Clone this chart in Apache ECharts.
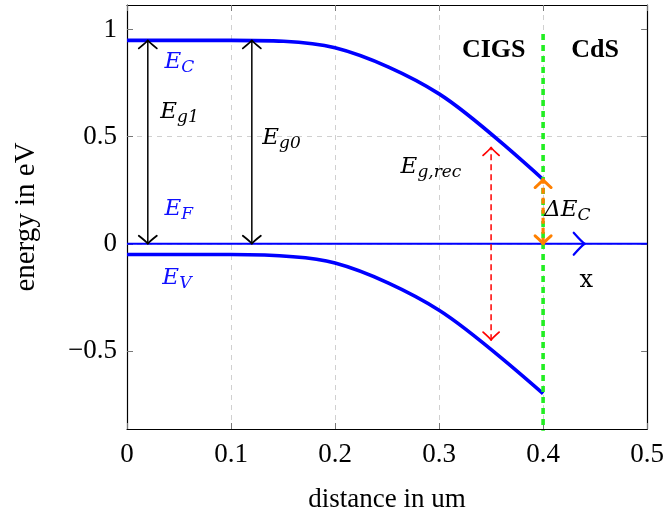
<!DOCTYPE html>
<html><head><meta charset="utf-8">
<script src="https://cdn.jsdelivr.net/npm/echarts@6/dist/echarts.min.js"></script>
<style>html,body{margin:0;padding:0;background:#fff}#c{width:667px;height:518px}</style>
</head><body><div id="c"></div>
<script>
// ---- data ----
const xPos = [0, 0.1, 0.2, 0.3, 0.4];
const ecVals = [0.95, 0.95, 0.915, 0.70, 0.30];
const evVals = [-0.05, -0.05, -0.09, -0.31, -0.70];
const efX = [0, 0.5];
const efVals = [0, 0];
const xTicks = [0, 0.1, 0.2, 0.3, 0.4, 0.5];
const yTicks = [-0.5, 0, 0.5, 1];
const gapArrows = [[0.02, 0, 0.95], [0.12, 0, 0.95]];
const recArrow = [[0.35, -0.45, 0.45]];
const offsetArrow = [[0.4, 0, 0.3]];
const interfaceLine = [[0.4, -1], [0.4, 1]];
const efArrowAt = [[0.44, 0]];
const yMin = -0.865, yMax = 1.115;
// annotation anchors (data coords) and texts
const blueLabels = [[0.036, 0.85, 'E', 'C'], [0.036, 0.163, 'E', 'F'], [0.034, -0.16, 'E', 'V']];
const blackLabels = [[0.032, 0.614, 'E', 'g1'], [0.130, 0.495, 'E', 'g0'], [0.263, 0.357, 'E', 'g,rec'], [0.401, 0.159, 'ΔE', 'C']];
const plainLabels = [[0.435, -0.173, 'x']];
const regionLabels = [[0.322, 0.904, 'CIGS'], [0.427, 0.904, 'CdS']];

const FONT = 'Liberation Serif';
const MATH = 'DejaVu Serif';

function chevron(tip, dir, h, w) {
  const nx = -dir[1], ny = dir[0];
  const a = [tip[0] - dir[0]*h + nx*w, tip[1] - dir[1]*h + ny*w];
  const b = [tip[0] - dir[0]*h - nx*w, tip[1] - dir[1]*h - ny*w];
  const ca = [tip[0] - dir[0]*h*0.25 + nx*w*0.15, tip[1] - dir[1]*h*0.25 + ny*w*0.15];
  const cb = [tip[0] - dir[0]*h*0.25 - nx*w*0.15, tip[1] - dir[1]*h*0.25 - ny*w*0.15];
  return 'M' + a[0] + ' ' + a[1] + ' Q' + ca[0] + ' ' + ca[1] + ' ' + tip[0] + ' ' + tip[1] +
         ' Q' + cb[0] + ' ' + cb[1] + ' ' + b[0] + ' ' + b[1];
}

function arrowSeries(data, color, width, dash, headW, headH, headWidth) {
  return {
    type: 'custom', data: data, z: 5, silent: true,
    renderItem: function (params, api) {
      const x = api.value(0), ya = api.value(1), yb = api.value(2);
      const p1 = api.coord([x, ya]), p2 = api.coord([x, yb]);
      const dx = p2[0]-p1[0], dy = p2[1]-p1[1];
      const L = Math.sqrt(dx*dx + dy*dy);
      const d = [dx/L, dy/L];
      return {
        type: 'group',
        children: [
          { type: 'line', shape: { x1: p1[0], y1: p1[1], x2: p2[0], y2: p2[1] },
            style: { stroke: color, lineWidth: width, lineDash: dash } },
          { type: 'path', shape: { pathData: chevron(p2, d, headH, headW) },
            style: { stroke: color, fill: null, lineWidth: headWidth, lineCap: 'round', lineJoin: 'round' } },
          { type: 'path', shape: { pathData: chevron(p1, [-d[0], -d[1]], headH, headW) },
            style: { stroke: color, fill: null, lineWidth: headWidth, lineCap: 'round', lineJoin: 'round' } }
        ]
      };
    }
  };
}

function labelSeries(data, color, fmt) {
  return {
    type: 'scatter', data: data, symbolSize: 0, z: 6, silent: true,
    itemStyle: { opacity: 1 },
    label: {
      show: true, position: 'right', distance: 0, color: color, opacity: 1,
      formatter: fmt,
      rich: {
        m: { fontFamily: MATH, fontStyle: 'italic', fontSize: 23, color: color, lineHeight: 28 },
        s: { fontFamily: MATH, fontStyle: 'italic', fontSize: 17, color: color, lineHeight: 11, verticalAlign: 'bottom' },
        u: { fontFamily: MATH, fontSize: 24, color: color, lineHeight: 28 },
        b: { fontFamily: FONT, fontWeight: 'bold', fontSize: 26, color: color, lineHeight: 28 }
      }
    }
  };
}

const chart = echarts.init(document.getElementById('c'), null, { renderer: 'canvas' });
const axisFont = { fontFamily: FONT, fontSize: 27, color: '#000' };
const tickStyle = { show: true, inside: true, length: 6, lineStyle: { color: '#777' } };
const splitStyle = { show: true, showMinLine: false, showMaxLine: false, lineStyle: { color: '#d0d0d0', type: [5, 5], width: 1 } };
chart.setOption({
  animation: false,
  backgroundColor: '#fff',
  grid: { left: 127, right: 17, top: 5, bottom: 86, show: false, containLabel: false },
  xAxis: [{
    type: 'value', min: 0, max: 0.5, interval: 0.1, position: 'bottom',
    name: 'distance in um', nameLocation: 'middle', nameGap: 57,
    nameTextStyle: { fontFamily: FONT, fontSize: 27, color: '#000' },
    axisLine: { show: true, onZero: false, lineStyle: { color: '#000', width: 1.2 } },
    axisTick: tickStyle,
    axisLabel: Object.assign({ margin: 12, formatter: v => String(v) }, axisFont),
    splitLine: splitStyle
  }, {
    type: 'value', min: 0, max: 0.5, interval: 0.1, position: 'top',
    axisLine: { show: true, onZero: false, lineStyle: { color: '#000', width: 1.2 } },
    axisLabel: { show: false },
    axisTick: tickStyle,
    splitLine: { show: false }
  }],
  yAxis: [{
    type: 'value', min: yMin, max: yMax, position: 'left',
    name: 'energy in eV', nameLocation: 'middle', nameGap: 86, nameRotate: 90,
    nameTextStyle: { fontFamily: FONT, fontSize: 29, color: '#000' },
    axisLine: { show: true, onZero: false, lineStyle: { color: '#000', width: 1.2 } },
    axisTick: Object.assign({ customValues: yTicks }, tickStyle),
    axisLabel: Object.assign({ margin: 10, customValues: yTicks, formatter: v => String(v).replace('-', '\u2212') }, axisFont),
    splitLine: splitStyle
  }, {
    type: 'value', min: yMin, max: yMax, position: 'right',
    axisLine: { show: true, onZero: false, lineStyle: { color: '#000', width: 1.2 } },
    axisLabel: { show: false, customValues: yTicks },
    axisTick: Object.assign({ customValues: yTicks }, tickStyle),
    splitLine: { show: false }
  }],
  series: [
    { type: 'line', data: efX.map((x, i) => [x, efVals[i]]), symbol: 'none', lineStyle: { color: '#0000ff', width: 1.8 }, z: 3 },
    { type: 'custom', data: efArrowAt, z: 4, silent: true,
      renderItem: function (params, api) {
        const p = api.coord([api.value(0), api.value(1)]);
        return { type: 'path', shape: { pathData: chevron(p, [1, 0], 11, 11) },
          style: { stroke: '#0000ff', fill: null, lineWidth: 2.2, lineCap: 'round' } };
      } },
    { type: 'line', data: xPos.map((x, i) => [x, ecVals[i]]), smooth: 0.3, symbol: 'none', lineStyle: { color: '#0000ff', width: 3.6 }, z: 3 },
    { type: 'line', data: xPos.map((x, i) => [x, evVals[i]]), smooth: 0.3, symbol: 'none', lineStyle: { color: '#0000ff', width: 3.6 }, z: 3 },
    { type: 'line', data: interfaceLine, symbol: 'none', lineStyle: { color: '#22ee22', width: 3.6, type: [6, 5] }, z: 4 },
    arrowSeries(gapArrows, '#000', 1.5, null, 9, 8, 1.8),
    arrowSeries(recArrow, '#ff0000', 1.5, [6, 4], 8, 8, 1.8),
    arrowSeries(offsetArrow, '#ff8000', 3.2, [6, 4], 8, 8, 3),
    labelSeries(blueLabels.map(d => ({ value: [d[0], d[1]], t: d })), '#1010ff', p => '{m|' + p.data.t[2] + '}{s|' + p.data.t[3] + '}'),
    labelSeries(blackLabels.map(d => ({ value: [d[0], d[1]], t: d })), '#000', p => '{m|' + p.data.t[2] + '}{s|' + p.data.t[3] + '}'),
    labelSeries(plainLabels.map(d => ({ value: [d[0], d[1]], t: d })), '#000', p => '{u|' + p.data.t[2] + '}'),
    labelSeries(regionLabels.map(d => ({ value: [d[0], d[1]], t: d })), '#000', p => '{b|' + p.data.t[2] + '}')
  ]
});
</script></body></html>
